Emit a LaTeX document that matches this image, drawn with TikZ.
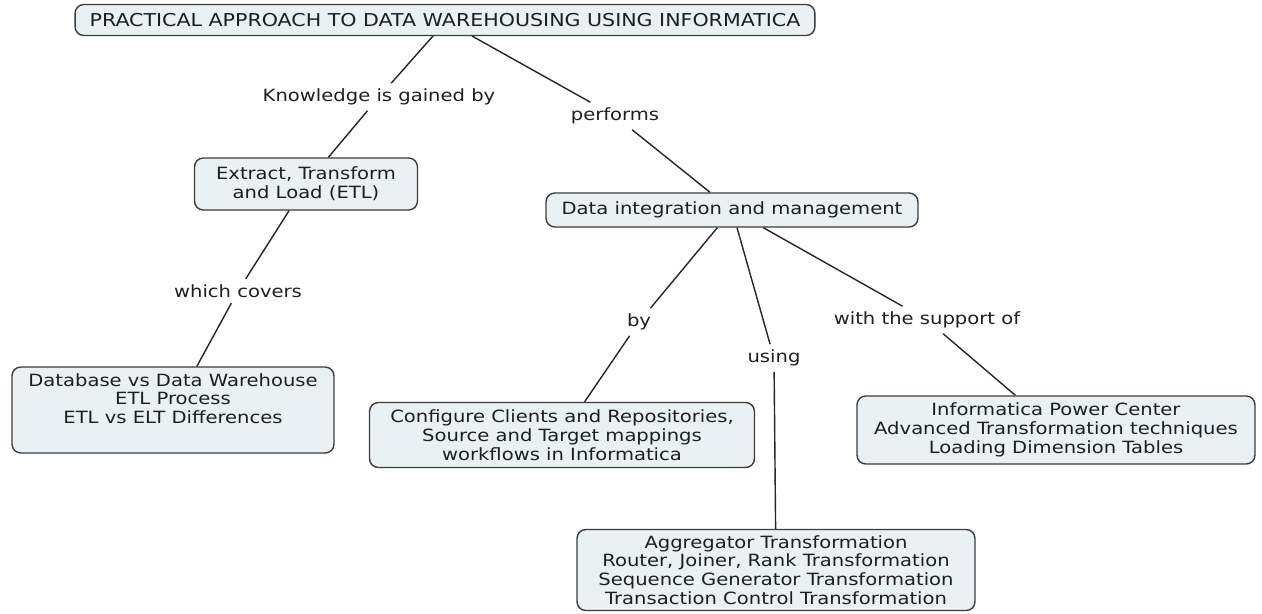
\documentclass[tikz,border=0pt]{standalone}
\usepackage{fontspec}
\setmainfont[FakeStretch=1.16]{DejaVu Sans}
\usetikzlibrary{positioning}
\definecolor{boxfill}{RGB}{234,241,244}
\definecolor{boxline}{RGB}{60,60,60}
\definecolor{inktext}{RGB}{30,30,30}

\begin{document}
\begin{tikzpicture}[
  x=0.02cm, y=-0.02cm,
  concept/.style={rectangle, rounded corners=5pt, draw=boxline, line width=0.8pt, fill=boxfill,
    align=center, text=inktext, font=\fontsize{9.6}{10.7}\selectfont, inner sep=2pt},
  linkphrase/.style={text=inktext, font=\fontsize{9.6}{10.7}\selectfont, inner sep=3pt},
  link/.style={line width=0.8pt, draw=black!85}
]
\useasboundingbox (0,0) rectangle (1262,613);

% Concepts
\node[concept, minimum width=14.8cm, minimum height=0.62cm, font=\fontsize{10.1}{11}\selectfont] (title) at (445,20)
  {PRACTICAL APPROACH TO DATA WAREHOUSING USING INFORMATICA};
\node[concept, minimum width=4.46cm, minimum height=1.04cm] (etl) at (306,184)
  {Extract, Transform\\and Load (ETL)};
\node[concept, minimum width=7.44cm, minimum height=0.68cm] (dim) at (732,210)
  {Data integration and management};
\node[concept, minimum width=6.44cm, minimum height=1.72cm, text depth=0.46cm] (dbase) at (173,410)
  {Database vs Data Warehouse\\ETL Process\\ETL vs ELT Differences};
\node[concept, minimum width=7.7cm, minimum height=1.3cm] (conf) at (562,435)
  {Configure Clients and Repositories,\\Source and Target mappings\\workflows in Informatica};
\node[concept, minimum width=7.96cm, minimum height=1.62cm] (aggr) at (776,570)
  {Aggregator Transformation\\Router, Joiner, Rank Transformation\\Sequence Generator Transformation\\Transaction Control Transformation};
\node[concept, minimum width=7.96cm, minimum height=1.36cm] (ipc) at (1056,430)
  {Informatica Power Center\\Advanced Transformation techniques\\Loading Dimension Tables};

% Linking phrases
\node[linkphrase] (know) at (379,97) {Knowledge is gained by};
\node[linkphrase] (perf) at (615,116) {performs};
\node[linkphrase] (cover) at (238,291) {which covers};
\node[linkphrase] (by) at (639,322) {by};
\node[linkphrase] (using) at (774,358) {using};
\node[linkphrase] (support) at (927,320) {with the support of};

% Attach points on the title
\coordinate (t1) at (433,36);
\coordinate (t2) at (472,36);

% Links
\draw[link] (t1) -- (know) -- (etl);
\draw[link] (t2) -- (perf) -- (dim);
\draw[link] (etl) -- (cover) -- (dbase);
\draw[link] (dim) -- (by) -- (conf);
\draw[link] (dim) -- (using) -- (aggr);
\draw[link] (dim) -- (support) -- (ipc);

\end{tikzpicture}
\end{document}
